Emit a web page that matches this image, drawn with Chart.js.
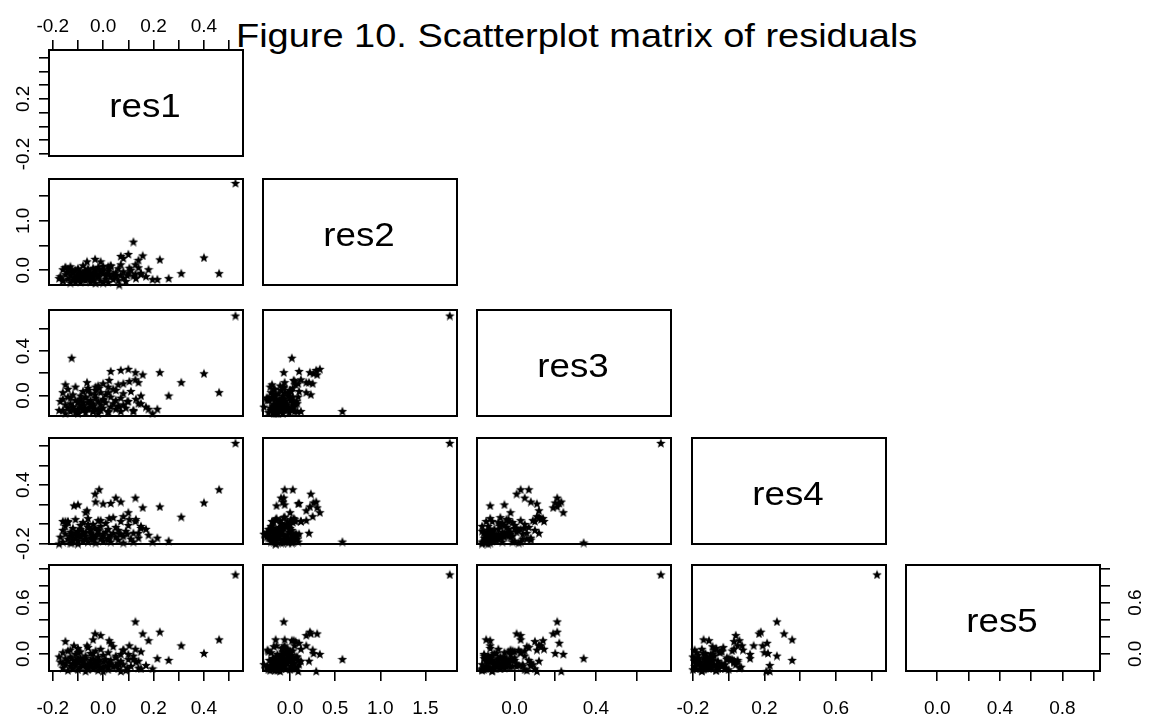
<!DOCTYPE html>
<html>
<head>
<meta charset="utf-8">
<script src="https://cdn.jsdelivr.net/npm/chart.js@4.4.0/dist/chart.umd.min.js"></script>
<style>
html,body{margin:0;padding:0;background:#fff;width:1150px;height:726px;overflow:hidden;}
#wrap{position:relative;width:1150px;height:726px;}
#wrap canvas{position:absolute;}
#title{position:absolute;left:236px;top:19px;font-family:"Liberation Sans",Arial,sans-serif;font-size:33px;line-height:33px;white-space:nowrap;transform-origin:0 0;transform:scaleX(1.15);color:#000;}
</style>
</head>
<body>
<div id="wrap"><div id="title">Figure 10. Scatterplot matrix of residuals</div></div>
<script>
// ---------------- data ----------------
const varNames = ['res1', 'res2', 'res3', 'res4', 'res5'];

const res1 = [
  0.525, 0.46, 0.40, 0.31, 0.26, 0.225, 0.215, 0.18, 0.12, 0.128,
  -0.125, 0.03, 0.157, 0.10, -0.016, -0.032, 0.196, -0.116, -0.10, -0.064,
  -0.15, -0.04, -0.01, 0.024, 0.17, 0.15, 0.104, 0.128, 0.096, 0.02,
  0.14, 0.08, -0.175, -0.16, 0.064, 0.05, -0.07, -0.03, 0.00, 0.07,
  -0.17, -0.16, -0.16, -0.15, -0.15, -0.14, -0.14, -0.13, -0.13, -0.13,
  -0.12, -0.12, -0.11, -0.11, -0.11, -0.10, -0.10, -0.10, -0.09, -0.09,
  -0.09, -0.08, -0.08, -0.08, -0.07, -0.07, -0.07, -0.06, -0.06, -0.06,
  -0.05, -0.05, -0.05, -0.04, -0.04, -0.04, -0.03, -0.03, -0.03, -0.02,
  -0.02, -0.02, -0.01, -0.01, 0.00, 0.00, 0.01, 0.01, 0.02, 0.02,
  0.03, 0.03, 0.04, 0.04, 0.05, 0.05, 0.06, 0.06, 0.07, 0.07,
  0.08, 0.08, 0.09, 0.10, 0.11, 0.12, 0.13, 0.14, 0.15, -0.12,
  -0.10, -0.08, -0.06, -0.04, -0.02, 0.00, 0.02, -0.14, -0.09, -0.05
];
const res2 = [
  1.77, -0.06, 0.26, -0.06, -0.16, 0.22, -0.18, 0.02, 0.58, -0.07,
  0.02, 0.10, 0.30, 0.33, 0.03, 0.23, -0.18, -0.15, -0.06, 0.18,
  0.06, -0.16, 0.18, 0.04, -0.12, -0.05, 0.05, 0.12, -0.10, 0.08,
  0.21, 0.25, -0.16, -0.20, -0.29, -0.10, 0.00, -0.08, 0.09, 0.29,
  -0.12, 0.02, -0.21, -0.08, 0.06, -0.17, -0.03, -0.25, -0.10, 0.08,
  -0.19, -0.05, -0.14, 0.01, -0.22, -0.09, 0.04, -0.16, -0.02, -0.12,
  -0.24, -0.06, 0.10, -0.18, -0.11, -0.01, -0.20, -0.07, 0.03, -0.15,
  -0.23, -0.04, -0.13, 0.05, -0.09, -0.19, 0.00, -0.26, -0.08, -0.14,
  0.07, -0.11, -0.03, -0.21, -0.06, 0.02, -0.17, -0.10, -0.24, -0.01,
  -0.13, 0.09, -0.07, -0.18, -0.04, -0.12, 0.04, -0.20, -0.09, 0.12,
  -0.15, -0.02, -0.22, -0.06, 0.01, -0.11, -0.16, 0.06, -0.08, -0.03,
  -0.19, -0.14, 0.00, -0.05, -0.10, -0.25, -0.07, 0.03, -0.13, -0.17
];
const res3 = [
  0.72, 0.03, 0.20, 0.12, 0.00, 0.21, -0.12, -0.12, -0.14, 0.21,
  0.34, 0.22, 0.19, 0.24, 0.07, 0.01, -0.16, -0.12, -0.05, 0.12,
  0.10, -0.14, 0.03, 0.14, -0.10, -0.07, 0.13, 0.145, -0.05, -0.14,
  0.12, 0.11, -0.13, -0.03, -0.10, 0.05, -0.02, 0.08, 0.11, 0.23,
  -0.05, -0.13, 0.03, -0.16, -0.08, 0.06, -0.11, -0.02, -0.14, -0.07,
  0.01, -0.10, -0.15, -0.04, 0.08, -0.12, -0.06, -0.16, 0.00, -0.09,
  -0.03, -0.13, 0.04, -0.08, -0.11, -0.15, -0.01, 0.07, -0.06, -0.12,
  -0.04, -0.10, 0.02, -0.14, -0.07, -0.09, 0.05, -0.02, -0.12, -0.16,
  -0.05, 0.09, -0.08, -0.13, -0.03, -0.11, 0.01, -0.06, -0.15, 0.03,
  -0.10, -0.01, -0.07, 0.06, -0.12, -0.04, -0.09, 0.10, -0.02, -0.14,
  -0.08, 0.02, -0.11, -0.05, 0.04, -0.13, -0.03, -0.07, 0.00, -0.10,
  -0.15, -0.06, 0.05, -0.09, -0.12, -0.04, 0.08, -0.01, -0.11, -0.08
];
const res4 = [
  0.83, 0.355, 0.22, 0.075, -0.17, 0.18, -0.14, -0.11, -0.18, 0.27,
  -0.19, 0.215, 0.17, 0.12, 0.355, 0.31, -0.18, 0.19, 0.20, 0.14,
  0.03, -0.14, 0.04, 0.06, -0.05, -0.02, 0.05, 0.03, -0.10, -0.15,
  -0.09, 0.08, -0.20, 0.03, -0.10, 0.27, 0.12, 0.23, 0.21, 0.23,
  -0.13, -0.06, -0.18, -0.02, -0.10, -0.15, 0.03, -0.08, -0.19, -0.12,
  -0.04, -0.16, -0.09, 0.05, -0.14, -0.07, -0.11, -0.20, -0.01, -0.13,
  -0.05, -0.17, -0.10, 0.02, -0.15, -0.08, -0.12, -0.03, -0.18, 0.06,
  -0.09, -0.14, -0.06, -0.11, 0.00, -0.16, -0.04, -0.13, -0.19, -0.07,
  -0.10, 0.04, -0.15, -0.02, -0.12, -0.17, -0.08, 0.01, -0.14, -0.05,
  -0.11, -0.18, 0.07, -0.09, -0.13, -0.03, -0.16, -0.06, -0.10, 0.03,
  -0.12, -0.19, -0.07, -0.01, -0.15, -0.09, 0.05, -0.14, -0.04, -0.11,
  -0.17, -0.08, 0.00, -0.13, -0.06, -0.10, -0.16, 0.02, -0.12, -0.05
];
const res5 = [
  0.93, 0.17, 0.01, 0.10, -0.07, 0.26, -0.05, 0.16, -0.06, 0.38,
  -0.05, 0.13, 0.24, 0.00, -0.07, 0.24, -0.17, 0.10, 0.02, 0.10,
  0.15, 0.17, 0.22, 0.16, -0.13, -0.17, 0.10, 0.06, -0.16, -0.15,
  -0.08, 0.05, -0.03, -0.10, -0.12, -0.02, -0.05, -0.13, -0.20, -0.20,
  -0.09, -0.16, 0.02, -0.12, -0.05, -0.19, -0.08, 0.05, -0.14, -0.03,
  -0.11, -0.17, 0.00, -0.07, -0.13, 0.07, -0.10, -0.18, -0.04, -0.15,
  0.03, -0.09, -0.12, -0.06, -0.20, -0.02, -0.14, 0.08, -0.11, -0.16,
  -0.07, 0.01, -0.13, -0.17, -0.05, -0.10, 0.04, -0.15, -0.08, -0.19,
  -0.03, -0.12, 0.06, -0.16, -0.09, -0.01, -0.14, -0.06, -0.18, 0.02,
  -0.11, -0.07, -0.15, 0.09, -0.04, -0.13, -0.10, -0.17, 0.00, -0.08,
  -0.12, 0.05, -0.19, -0.06, -0.14, -0.02, -0.09, -0.16, 0.03, -0.11,
  -0.05, -0.13, -0.18, 0.01, -0.08, -0.15, -0.10, 0.04, -0.07, -0.12
];

// axis limits of each variable
const res1Range = [-0.215, 0.555];
const res2Range = [-0.30, 1.85];
const res3Range = [-0.185, 0.77];
const res4Range = [-0.205, 0.88];
const res5Range = [-0.20, 1.04];

// tick positions
const res1Ticks = [-0.2, -0.1, 0.0, 0.1, 0.2, 0.3, 0.4, 0.5];
const res2Ticks = [0.0, 0.5, 1.0, 1.5];
const res3Ticks = [0.0, 0.2, 0.4, 0.6];
const res4Ticks = [-0.2, 0.0, 0.2, 0.4, 0.6, 0.8];
const res5Ticks = [0.0, 0.2, 0.4, 0.6, 0.8, 1.0];

// tick labels that are printed
const topLabels = ['-0.2', '0.0', '0.2', '0.4'];
const bottomLabels = [
  ['-0.2', '0.0', '0.2', '0.4'],
  ['0.0', '0.5', '1.0', '1.5'],
  ['0.0', '0.4'],
  ['-0.2', '0.2', '0.6'],
  ['0.0', '0.4', '0.8']
];
const leftLabels = [
  ['-0.2', '0.2'],
  ['0.0', '1.0'],
  ['0.0', '0.4'],
  ['-0.2', '0.4'],
  ['0.0', '0.6']
];
const rightLabels = ['0.0', '0.6'];

const title = 'Figure 10. Scatterplot matrix of residuals';

// ---------------- layout / style ----------------
const series = [res1, res2, res3, res4, res5];
const ranges = [res1Range, res2Range, res3Range, res4Range, res5Range];
const tickVals = [res1Ticks, res2Ticks, res3Ticks, res4Ticks, res5Ticks];

const FONT = "'Liberation Sans', Arial, Helvetica, sans-serif";
const TICK_FONT = 19;
const colLeft = [49, 263, 477, 692, 906];
const rowTop = [50, 179, 310, 438, 565];
const boxW = 194, boxH = 106;
const M = { l: 46, r: 46, t: 48, b: 54 };
const TL = 10;

document.getElementById('title').textContent = title;

const mctx = document.createElement('canvas').getContext('2d');
mctx.font = TICK_FONT + 'px ' + FONT;
function widest(labels) { return Math.max(...labels.map(l => mctx.measureText(l).width)); }

function labelOf(labels, v) {
  const s = labels.find(l => Math.abs(parseFloat(l) - v) < 1e-9);
  return s === undefined ? '' : s;
}

function makeStar(size) {
  const c = document.createElement('canvas');
  c.width = size; c.height = size;
  const g = c.getContext('2d');
  g.fillStyle = '#000';
  g.beginPath();
  for (let i = 0; i < 10; i++) {
    const rr = (i % 2) ? size * 0.22 : size * 0.5;
    const a = -Math.PI / 2 + i * Math.PI / 5;
    g.lineTo(size / 2 + rr * Math.cos(a), size / 2 + 0.6 + rr * Math.sin(a));
  }
  g.closePath();
  g.fill();
  return c;
}
const star = makeStar(10);

const boxPlugin = {
  id: 'panelBox',
  afterDraw(chart) {
    const { ctx, chartArea: a } = chart;
    ctx.save();
    ctx.strokeStyle = '#000';
    ctx.lineWidth = 2;
    ctx.strokeRect(a.left, a.top, a.right - a.left, a.bottom - a.top);
    ctx.restore();
  }
};
const diagPlugin = {
  id: 'diagLabel',
  afterDraw(chart, args, opts) {
    if (!opts || !opts.text) return;
    const { ctx, chartArea: a } = chart;
    ctx.save();
    ctx.fillStyle = '#000';
    ctx.font = '34px ' + FONT;
    ctx.textAlign = 'center';
    ctx.textBaseline = 'alphabetic';
    ctx.translate((a.left + a.right) / 2 - 1, (a.top + a.bottom) / 2 + 14);
    ctx.scale(1.08, 1);
    ctx.fillText(opts.text, 0, 0);
    ctx.restore();
  }
};

function scaleCfg(axis, vi, position, show, labels, thickness, pad) {
  const cfg = {
    type: 'linear',
    axis: axis,
    position: position,
    display: show,
    min: ranges[vi][0],
    max: ranges[vi][1],
    afterBuildTicks: s => { s.ticks = tickVals[vi].map(v => ({ value: v })); },
    grid: { display: show, drawOnChartArea: false, drawTicks: true, tickLength: TL,
            color: '#000', lineWidth: 1.6, tickColor: '#000', tickWidth: 1.6 },
    border: { display: false },
    ticks: { autoSkip: false, color: '#000', font: { family: FONT, size: TICK_FONT },
             padding: pad, callback: v => labelOf(labels || [], v) }
  };
  if (axis === 'y') {
    cfg.ticks.minRotation = 90; cfg.ticks.maxRotation = 90; cfg.ticks.crossAlign = 'center';
  } else {
    cfg.ticks.minRotation = 0; cfg.ticks.maxRotation = 0;
  }
  if (show) {
    cfg.afterFit = s => {
      if (axis === 'x') s.height = thickness; else s.width = thickness;
      s.paddingLeft = 0; s.paddingRight = 0; s.paddingTop = 0; s.paddingBottom = 0;
    };
  }
  return cfg;
}

const wrap = document.getElementById('wrap');
for (let r = 0; r < 5; r++) {
  for (let c = 0; c <= r; c++) {
    const cv = document.createElement('canvas');
    const W = boxW + M.l + M.r, H = boxH + M.t + M.b;
    cv.width = W; cv.height = H;
    cv.style.left = (colLeft[c] - M.l) + 'px';
    cv.style.top = (rowTop[r] - M.t) + 'px';
    cv.style.width = W + 'px'; cv.style.height = H + 'px';
    wrap.appendChild(cv);

    const showTop = (r === 0 && c === 0);
    const showBottom = (r === 4);
    const showLeft = (c === 0);
    const showRight = (r === 4 && c === 4);

    let xScale;
    if (showTop) xScale = scaleCfg('x', c, 'top', true, topLabels, M.t, 2);
    else xScale = scaleCfg('x', c, 'bottom', showBottom, bottomLabels[c], M.b, 16);

    let yScale;
    if (showRight) {
      yScale = scaleCfg('y', r, 'right', true, rightLabels, M.r, 36 - TL - widest(rightLabels) / 2);
    } else {
      yScale = scaleCfg('y', r, 'left', showLeft, leftLabels[r], M.l, 25 - TL - widest(leftLabels[r]) / 2);
    }

    const datasets = (r === c) ? [] : [{
      data: series[c].map((v, i) => ({ x: v, y: series[r][i] })),
      pointStyle: star,
      pointRadius: 4,
      pointHoverRadius: 4,
      borderWidth: 0,
      clip: false
    }];

    new Chart(cv, {
      type: 'scatter',
      data: { datasets },
      options: {
        responsive: false,
        animation: false,
        devicePixelRatio: 1,
        events: [],
        layout: { padding: {
          left: showLeft ? 0 : M.l,
          right: showRight ? 0 : M.r,
          top: showTop ? 0 : M.t,
          bottom: showBottom ? 0 : M.b
        } },
        plugins: {
          legend: { display: false },
          tooltip: { enabled: false },
          diagLabel: { text: r === c ? varNames[r] : '' }
        },
        scales: { x: xScale, y: yScale }
      },
      plugins: [boxPlugin, diagPlugin]
    });
  }
}
</script>
</body>
</html>
